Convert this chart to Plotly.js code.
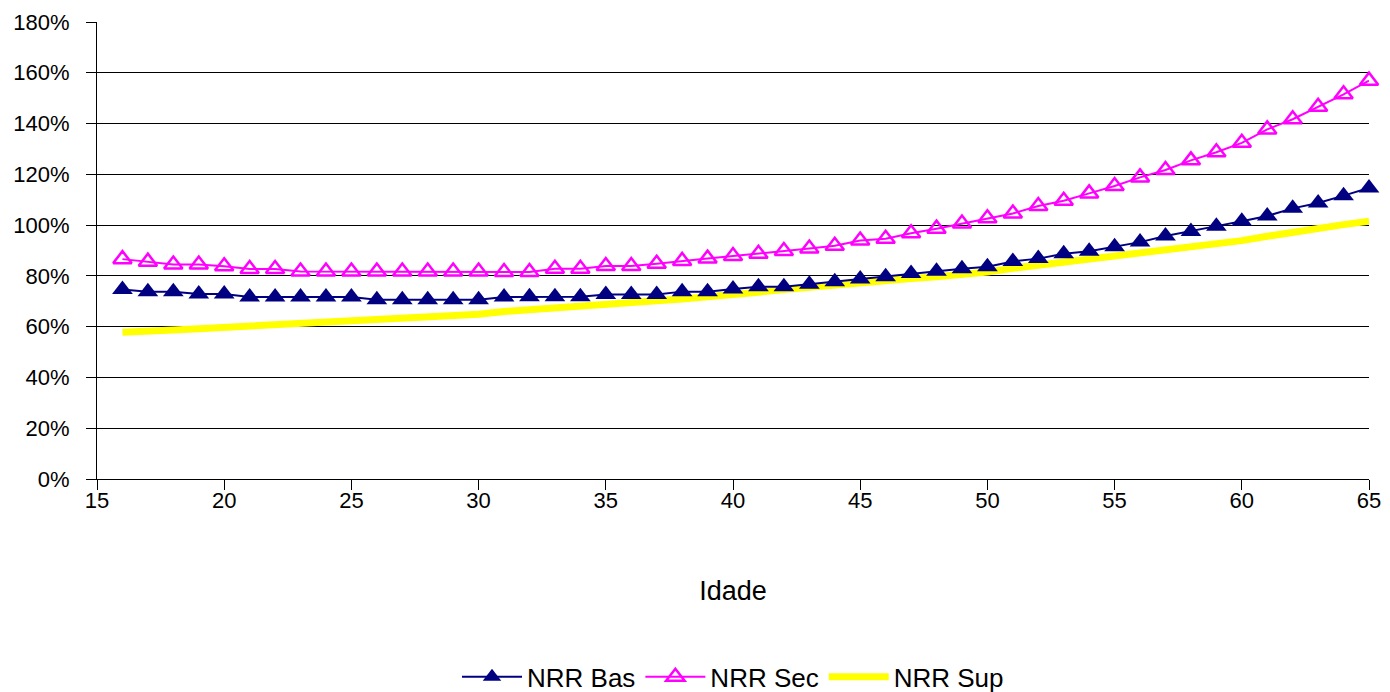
<!DOCTYPE html>
<html>
<head>
<meta charset="utf-8">
<script src="https://cdn.plot.ly/plotly-3.0.1.min.js"></script>
<style>
html,body{margin:0;padding:0;background:#fff;}
#chart{width:1390px;height:692px;}
</style>
</head>
<body>
<div id="chart"></div>
<script>
const ages = [16,17,18,19,20,21,22,23,24,25,26,27,28,29,30,31,32,33,34,35,36,37,38,39,40,41,42,43,44,45,46,47,48,49,50,51,52,53,54,55,56,57,58,59,60,61,62,63,64,65];
const nrrBas = [74.6,73.8,73.8,72.9,72.9,71.7,71.7,71.7,71.7,71.7,70.6,70.6,70.6,70.6,70.6,71.7,71.8,71.8,71.8,72.7,72.7,72.7,73.8,73.8,74.8,75.7,75.7,76.7,77.7,78.8,79.7,80.9,81.8,82.8,83.6,85.7,86.8,88.7,89.7,91.5,93.3,95.7,97.5,99.6,101.5,103.6,106.6,108.7,111.6,114.6];
const nrrSec = [86.6,85.6,84.5,84.5,83.8,82.7,82.7,81.7,81.7,81.7,81.7,81.7,81.7,81.7,81.7,81.5,81.5,82.8,82.8,83.9,83.9,84.8,85.9,86.8,87.8,88.7,89.8,90.8,91.9,93.9,94.6,96.8,98.6,100.6,102.7,104.6,107.5,109.6,112.5,115.4,118.8,121.7,125.5,128.7,132.4,137.7,141.7,146.6,151.5,156.9];
const nrrSup = [57.8,58.0,58.7,59.2,59.7,60.0,60.4,60.9,61.3,62.0,62.4,62.9,63.5,64.0,64.9,66.0,66.8,67.6,68.3,68.8,69.6,70.2,70.9,71.6,72.6,73.6,74.6,75.6,76.6,77.4,78.0,79.0,79.7,80.4,81.5,83.0,84.2,85.4,86.5,87.5,88.8,90.3,91.5,92.6,93.9,95.6,97.3,98.9,100.2,101.5];
const seriesNames = ["NRR Bas","NRR Sec","NRR Sup"];
const xTitle = "Idade";

const FONT = "Liberation Sans, Arial, sans-serif";

const traces = [
  {x: ages, y: nrrSup, name: seriesNames[2], type: "scatter", mode: "lines",
   line: {color: "#FFFF00", width: 7}, legendrank: 3, cliponaxis: false},
  {x: ages, y: nrrBas, name: seriesNames[0], type: "scatter", mode: "lines+markers",
   line: {color: "#000080", width: 2}, legendrank: 1, cliponaxis: false,
   marker: {symbol: "triangle-up", size: 18, color: "#000080", line: {width: 0}}},
  {x: ages, y: nrrSec, name: seriesNames[1], type: "scatter", mode: "lines+markers",
   line: {color: "#FF00FF", width: 2}, legendrank: 2, cliponaxis: false,
   marker: {symbol: "triangle-up-open", size: 16, color: "#FF00FF", line: {color: "#FF00FF", width: 2.5}}}
];

const layout = {
  width: 1390, height: 692,
  paper_bgcolor: "#ffffff", plot_bgcolor: "#ffffff",
  margin: {l: 97, r: 21, t: 22, b: 213, autoexpand: false},
  font: {family: FONT, color: "#000", size: 22},
  showlegend: true,
  legend: {orientation: "h", x: 0.5, xanchor: "center", y: -0.433, yanchor: "middle",
           font: {family: FONT, size: 26, color: "#000"}, traceorder: "normal",
           itemwidth: 60},
  xaxis: {
    range: [15, 65], dtick: 5, tick0: 15,
    showgrid: false, zeroline: false,
    showline: true, linecolor: "#000", linewidth: 1,
    ticks: "outside", ticklen: 10, tickcolor: "#000", tickwidth: 1,
    ticklabelstandoff: -8,
    tickfont: {family: FONT, size: 22, color: "#000"},
    title: {text: xTitle, font: {family: FONT, size: 27, color: "#000"}, standoff: 68},
    automargin: false
  },
  yaxis: {
    range: [0, 180], dtick: 20, tick0: 0,
    ticksuffix: "%",
    showgrid: true, gridcolor: "#000", gridwidth: 1,
    zeroline: false,
    showline: true, linecolor: "#000", linewidth: 1,
    ticks: "outside", ticklen: 10, tickcolor: "#000", tickwidth: 1,
    ticklabelstandoff: 12,
    tickfont: {family: FONT, size: 22, color: "#000"},
    automargin: false
  }
};

Plotly.newPlot("chart", traces, layout, {displayModeBar: false, staticPlot: true});
</script>
</body>
</html>
